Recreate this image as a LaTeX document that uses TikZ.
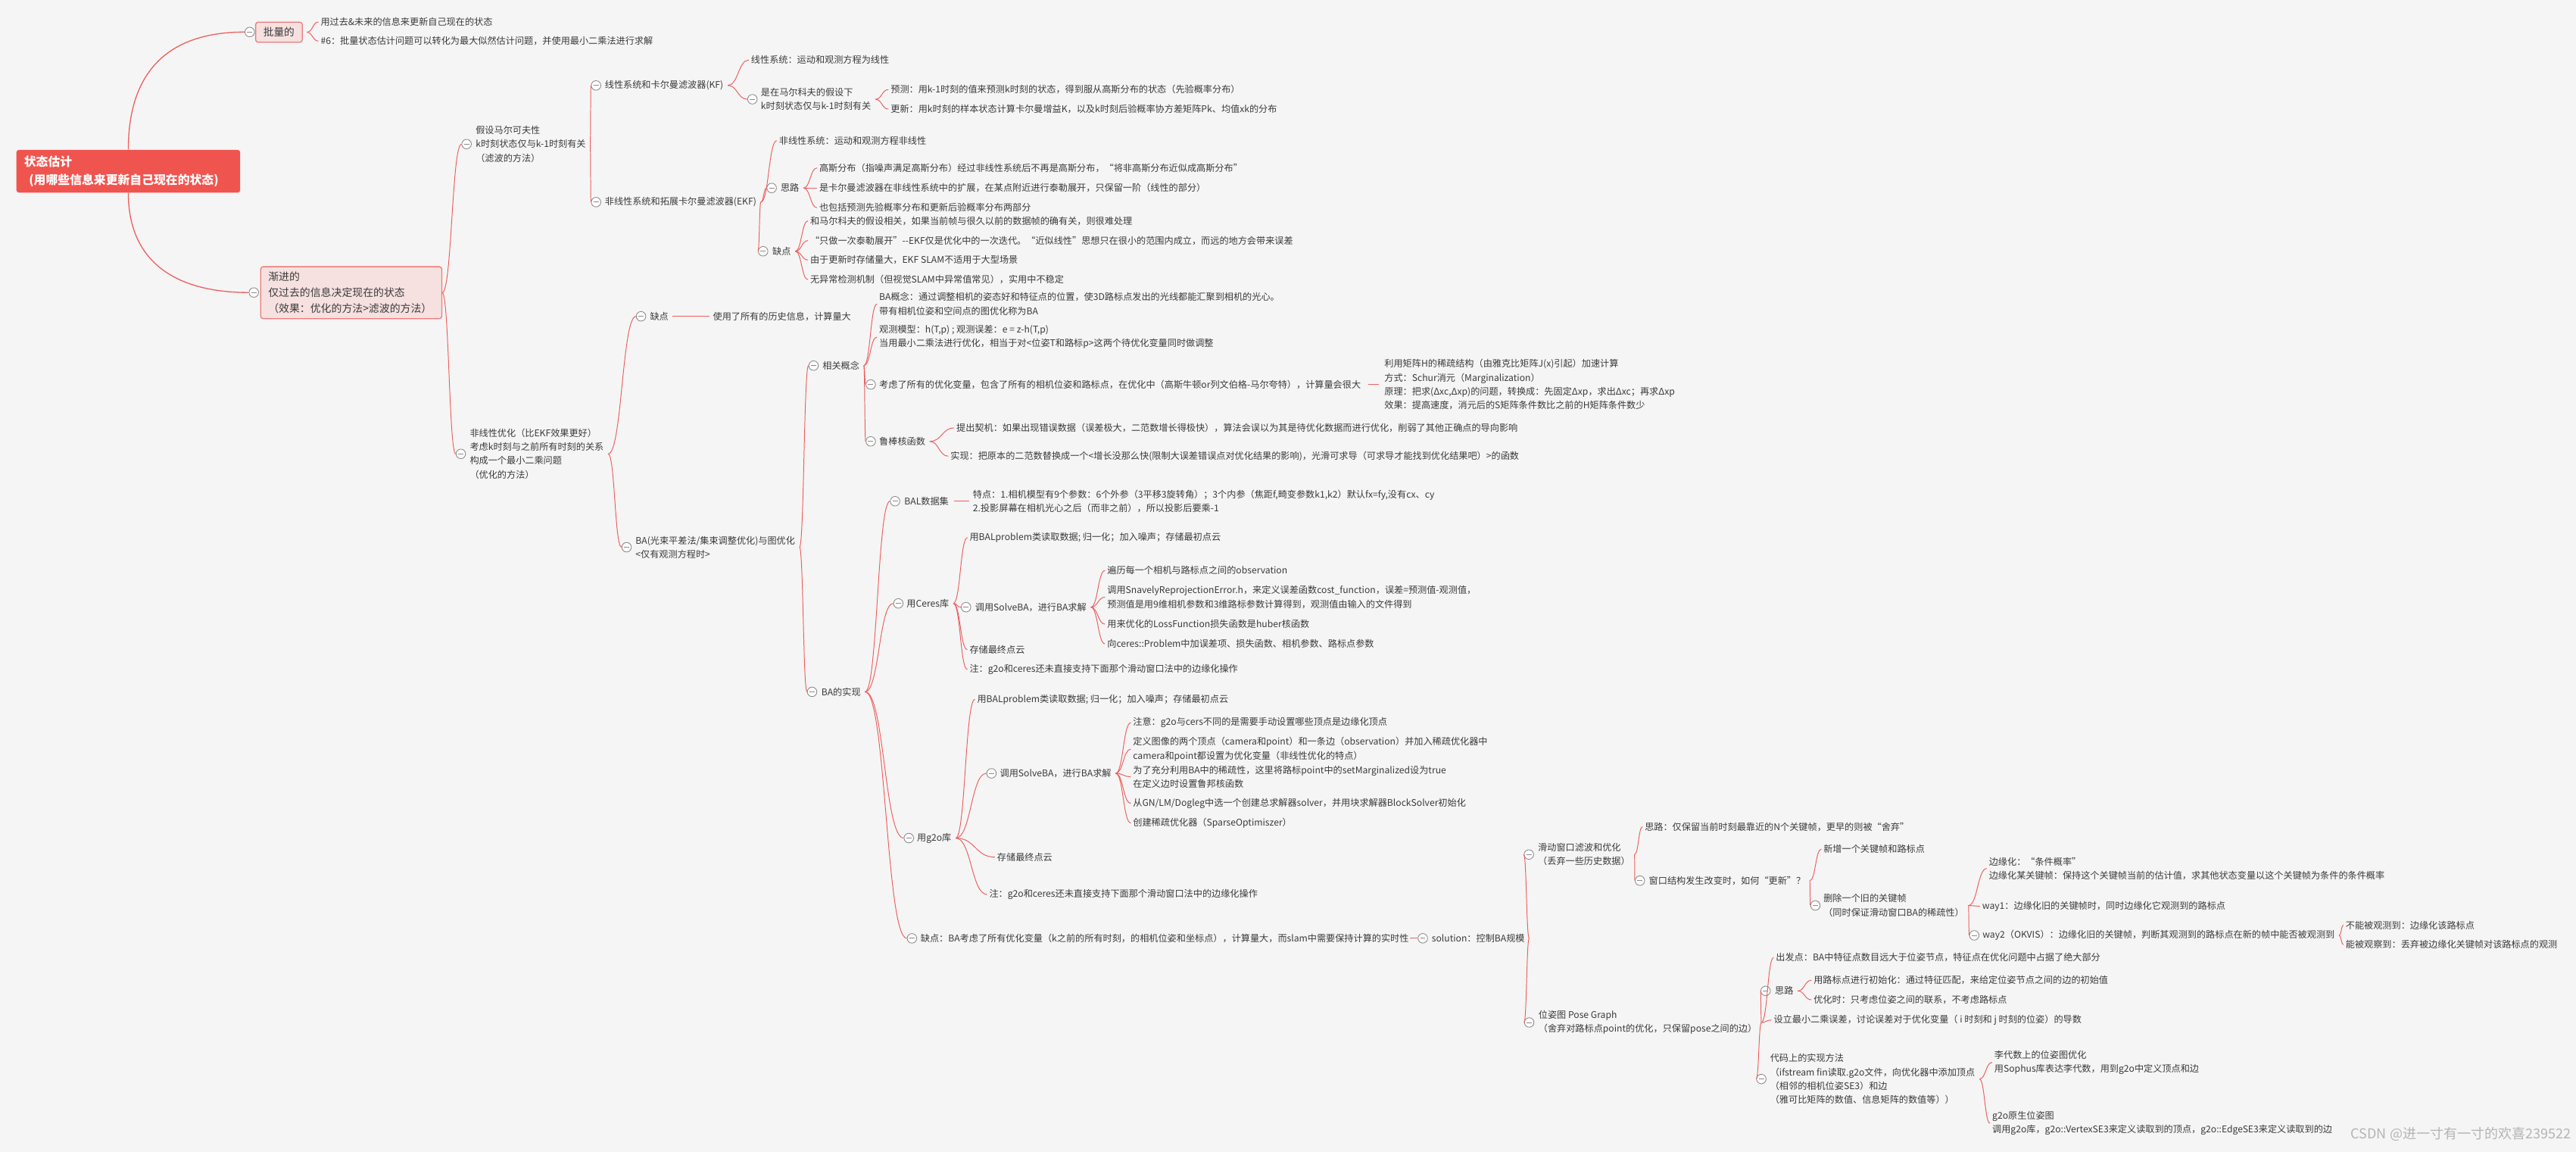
\documentclass[tikz,border=0pt]{standalone}
\usepackage{fontspec}
\setmainfont{Noto Sans CJK SC}
\usetikzlibrary{calc}
\definecolor{bgc}{HTML}{F5F5F5}
\definecolor{lk}{HTML}{EE5E5E}
\definecolor{tx}{HTML}{3A3A3A}
\definecolor{rootred}{HTML}{F0544F}
\definecolor{boxfill}{HTML}{F6E0E0}
\definecolor{boxline}{HTML}{EE7B7B}
\definecolor{knob}{HTML}{8A8A8A}
\definecolor{wm}{HTML}{B4B4B4}
\tikzset{
 t/.style={anchor=west, inner sep=0pt, text=tx, font=\fontsize{5.6}{8.4}\selectfont, align=left},
 knobc/.style={circle, draw=knob, fill=white, line width=0.4pt, minimum size=5.8pt, inner sep=0pt,
   path picture={\draw[knob, line width=0.4pt] ([xshift=1.3pt]path picture bounding box.west) -- ([xshift=-1.3pt]path picture bounding box.east);}},
 link/.style={draw=lk, line width=0.45pt},
 rootbox/.style={anchor=north west, fill=rootred, rounded corners=1.5pt, text=white,
   font=\fontsize{7.3}{11}\selectfont\bfseries, align=left, text width=126.8pt, inner xsep=4.7pt, inner ysep=0pt, minimum height=26pt},
 pbox/.style={draw=boxline, fill=boxfill, rounded corners=1.5pt, line width=0.6pt, text=tx, inner sep=0pt},
}
\newcommand\mmcn[2]{\draw[link] let \p1=(#1),\p2=(#2) in (\p1) .. controls +({0.5*(\x2-\x1)},0pt) and +({-0.5*(\x2-\x1)},0pt) .. (\p2);}
\newcommand\mmkn[5]{\node[knobc] (#1c) at (#2,#4) {}; \node[t] (#1) at (#3,#4) {#5};}
\newcommand\mmtn[4]{\node[t] (#1) at (#2,#3) {#4};}
\newcommand\mmbr[2]{\mmcn{[xshift=2.5pt]#1.east}{[xshift=-1.2pt]#2.west}}
\newcommand\mmbrc[2]{\mmcn{[xshift=2.5pt]#1.east}{#2c.west}}
\begin{document}
\begin{tikzpicture}[x=1pt,y=-1pt]
\fill[bgc] (0,0) rectangle (1568,701);
\useasboundingbox (0,0) rectangle (1568,701);

% ---------- root and first level
\node[rootbox] (root) at (9.8,91) {状态估计\\\hspace*{3pt}(用哪些信息来更新自己现在的状态)};
\node[knobc] (plc) at (152,19.5) {};
\node[pbox, minimum width=28.4pt, minimum height=12.2pt, font=\fontsize{6.3}{7.5}\selectfont] (pl) at (169.8,19.6) {批量的};
\node[knobc] (jjc) at (154.5,178) {};
\node[pbox, anchor=north west, text width=101pt, inner xsep=4.6pt, minimum height=31.6pt, align=left, font=\fontsize{6.4}{9.5}\selectfont] (jj) at (158.4,162) {渐进的\\仅过去的信息决定现在的状态\\（效果：优化的方法>滤波的方法）};
\draw[link, line width=0.6pt] (root.north) .. controls +(0,-46.5) and +(-47.5,0) .. (plc.west);
\draw[link, line width=0.6pt] (root.south) .. controls +(0,40) and +(-47,0) .. (jjc.west);

\mmtn{pla}{195}{13.4}{用过去\&未来的信息来更新自己现在的状态}
\mmtn{plb}{195}{25}{\#6：批量状态估计问题可以转化为最大似然估计问题，并使用最小二乘法进行求解}
\mmbr{pl}{pla} \mmbr{pl}{plb}

% ---------- second level
\mmkn{mk}{284}{289.4}{87.7}{假设马尔可夫性\\k时刻状态仅与k-1时刻有关\\（滤波的方法）}
\mmkn{nl}{280.5}{285.8}{276.2}{非线性优化（比EKF效果更好）\\考虑k时刻与之前所有时刻的关系\\构成一个最小二乘问题\\（优化的方法）}
\mmcn{jj.east}{mkc.west}
\mmcn{jj.east}{nlc.west}

% ---------- KF / EKF
\mmkn{kf}{362.8}{368}{52}{线性系统和卡尔曼滤波器(KF)}
\mmkn{ekf}{362.8}{368}{123}{非线性系统和拓展卡尔曼滤波器(EKF)}
\mmbrc{mk}{kf} \mmbrc{mk}{ekf}

\mmtn{kfa}{457}{36.5}{线性系统：运动和观测方程为线性}
\mmkn{kfb}{458}{463}{60.4}{是在马尔科夫的假设下\\k时刻状态仅与k-1时刻有关}
\mmbr{kf}{kfa} \mmbrc{kf}{kfb}
\mmtn{kfba}{542}{54.5}{预测：用k-1时刻的值来预测k时刻的状态，得到服从高斯分布的状态（先验概率分布）}
\mmtn{kfbb}{542}{66.4}{更新：用k时刻的样本状态计算卡尔曼增益K，以及k时刻后验概率协方差矩阵Pk、均值xk的分布}
\mmbr{kfb}{kfba} \mmbr{kfb}{kfbb}

\mmtn{ekfa}{474}{85.6}{非线性系统：运动和观测方程非线性}
\mmkn{ekfb}{469.7}{475}{114.4}{思路}
\mmkn{ekfc}{464.5}{470}{152.9}{缺点}
\mmbr{ekf}{ekfa} \mmbrc{ekf}{ekfb} \mmbrc{ekf}{ekfc}
\mmtn{eba}{498.5}{102.2}{高斯分布（指噪声满足高斯分布）经过非线性系统后不再是高斯分布，“将非高斯分布近似成高斯分布”}
\mmtn{ebb}{498.5}{114.4}{是卡尔曼滤波器在非线性系统中的扩展，在某点附近进行泰勒展开，只保留一阶（线性的部分）}
\mmtn{ebc}{498.5}{126.4}{也包括预测先验概率分布和更新后验概率分布两部分}
\mmbr{ekfb}{eba} \mmbr{ekfb}{ebb} \mmbr{ekfb}{ebc}
\mmtn{eca}{493}{134.4}{和马尔科夫的假设相关，如果当前帧与很久以前的数据帧的确有关，则很难处理}
\mmtn{ecb}{493}{146.4}{“只做一次泰勒展开”-{}-EKF仅是优化中的一次迭代。“近似线性”思想只在很小的范围内成立，而远的地方会带来误差}
\mmtn{ecc}{493}{158.2}{由于更新时存储量大，EKF SLAM不适用于大型场景}
\mmtn{ecd}{493}{170.2}{无异常检测机制（但视觉SLAM中异常值常见），实用中不稳定}
\mmbr{ekfc}{eca} \mmbr{ekfc}{ecb} \mmbr{ekfc}{ecc} \mmbr{ekfc}{ecd}

% ---------- nonlinear optimisation
\mmkn{qd}{390.2}{395.5}{192.5}{缺点}
\node[t] (qda) at ($(qd.east)+(26.7,0)$) {使用了所有的历史信息，计算量大};
\draw[link] ([xshift=2pt]qd.east) -- ([xshift=-2pt]qda.west);
\mmkn{ba}{381.4}{386.7}{333}{BA(光束平差法/集束调整优化)与图优化\\<仅有观测方程时>}
\mmbrc{nl}{qd} \mmbrc{nl}{ba}

\mmkn{xg}{495.2}{500.5}{222.5}{相关概念}
\mmkn{bs}{494.3}{499.8}{421}{BA的实现}
\mmbrc{ba}{xg} \mmbrc{ba}{bs}

\mmtn{xga}{535}{185}{BA概念：通过调整相机的姿态好和特征点的位置，使3D路标点发出的光线都能汇聚到相机的光心。\\带有相机位姿和空间点的图优化称为BA}
\mmtn{xgb}{535}{205.1}{观测模型：h(T,p) ; 观测误差：e = z-h(T,p)\\当用最小二乘法进行优化，相当于对<位姿T和路标p>这两个待优化变量同时做调整}
\mmkn{xgc}{530}{535}{234}{考虑了所有的优化变量，包含了所有的相机位姿和路标点，在优化中（高斯牛顿or列文伯格-马尔夸特），计算量会很大}
\mmkn{xgd}{530}{535}{268.6}{鲁棒核函数}
\mmbr{xg}{xga} \mmbr{xg}{xgb} \mmbrc{xg}{xgc} \mmbrc{xg}{xgd}
\node[t] (xgca) at ($(xgc.east)+(14,0)$) {利用矩阵H的稀疏结构（由雅克比矩阵J(x)引起）加速计算\\方式：Schur消元（Marginalization）\\原理：把求(Δxc,Δxp)的问题，转换成：先固定Δxp，求出Δxc；再求Δxp\\效果：提高速度，消元后的S矩阵条件数比之前的H矩阵条件数少};
\draw[link] ([xshift=4.5pt]xgc.east) -- ([xshift=-3pt]xgca.west);
\mmtn{xgda}{582}{260.4}{提出契机：如果出现错误数据（误差极大，二范数增长得极快），算法会误以为其是待优化数据而进行优化，削弱了其他正确点的导向影响}
\mmtn{xgdb}{578.4}{277.6}{实现：把原本的二范数替换成一个<增长没那么快(限制大误差错误点对优化结果的影响)，光滑可求导（可求导才能找到优化结果吧）>的函数}
\mmbr{xgd}{xgda} \mmbr{xgd}{xgdb}

% ---------- BA implementation
\mmkn{bal}{544.8}{550.3}{305}{BAL数据集}
\node[t] (bala) at ($(bal.east)+(14.4,0)$) {特点：1.相机模型有9个参数：6个外参（3平移3旋转角）；3个内参（焦距f,畸变参数k1,k2）默认fx=fy,没有cx、cy\\2.投影屏幕在相机光心之后（而非之前），所以投影后要乘-1};
\draw[link] ([xshift=3pt]bal.east) -- ([xshift=-2pt]bala.west);
\mmkn{ce}{546.8}{551.7}{367.2}{用Ceres库}
\mmkn{go}{553.2}{558}{510}{用g2o库}
\mmkn{qdb}{555.1}{560.2}{571}{缺点：BA考虑了所有优化变量（k之前的所有时刻，的相机位姿和坐标点），计算量大，而slam中需要保持计算的实时性}
\mmbrc{bs}{bal} \mmbrc{bs}{ce} \mmbrc{bs}{go} \mmbrc{bs}{qdb}

\mmtn{cea}{590}{327.2}{用BALproblem类读取数据; 归一化；加入噪声；存储最初点云}
\mmkn{ceb}{588}{593.4}{369.5}{调用SolveBA，进行BA求解}
\mmtn{cec}{590}{395.3}{存储最终点云}
\mmtn{ced}{590}{407.4}{注：g2o和ceres还未直接支持下面那个滑动窗口法中的边缘化操作}
\mmbr{ce}{cea} \mmbrc{ce}{ceb} \mmbr{ce}{cec} \mmbr{ce}{ced}
\mmtn{ceba}{673.8}{347.2}{遍历每一个相机与路标点之间的observation}
\mmtn{cebb}{673.8}{363.4}{调用SnavelyReprojectionError.h，来定义误差函数cost\_function，误差=预测值-观测值，\\预测值是用9维相机参数和3维路标参数计算得到，观测值由输入的文件得到}
\mmtn{cebc}{673.8}{379.8}{用来优化的LossFunction损失函数是huber核函数}
\mmtn{cebd}{673.8}{391.8}{向ceres::Problem中加误差项、损失函数、相机参数、路标点参数}
\mmbr{ceb}{ceba} \mmbr{ceb}{cebb} \mmbr{ceb}{cebc} \mmbr{ceb}{cebd}

\mmtn{goa}{594.6}{425.6}{用BALproblem类读取数据; 归一化；加入噪声；存储最初点云}
\mmkn{gob}{603.5}{608.5}{470.6}{调用SolveBA，进行BA求解}
\mmtn{goc}{606.8}{521.6}{存储最终点云}
\mmtn{god}{602}{544.3}{注：g2o和ceres还未直接支持下面那个滑动窗口法中的边缘化操作}
\mmbr{go}{goa} \mmbrc{go}{gob} \mmbr{go}{goc} \mmbr{go}{god}
\mmtn{goba}{689.5}{439.8}{注意：g2o与cers不同的是需要手动设置哪些顶点是边缘化顶点}
\mmtn{gobb}{689.5}{455.9}{定义图像的两个顶点（camera和point）和一条边（observation）并加入稀疏优化器中\\camera和point都设置为优化变量（非线性优化的特点）}
\mmtn{gobc}{689.5}{472.7}{为了充分利用BA中的稀疏性，这里将路标point中的setMarginalized设为true\\在定义边时设置鲁邦核函数}
\mmtn{gobd}{689.5}{488.9}{从GN/LM/Dogleg中选一个创建总求解器solver，并用块求解器BlockSolver初始化}
\mmtn{gobe}{689.5}{500.8}{创建稀疏优化器（SparseOptimiszer）}
\mmbr{gob}{goba} \mmbr{gob}{gobb} \mmbr{gob}{gobc} \mmbr{gob}{gobd} \mmbr{gob}{gobe}

% ---------- solution
\node[knobc] (solc) at ($(qdb.east)+(8.3,0)$) {};
\node[t] (sol) at ($(solc.center)+(5.3,0)$) {solution：控制BA规模};
\draw[link] ([xshift=0.5pt]qdb.east) -- (solc.west);

\mmkn{sw}{930.6}{936}{520}{滑动窗口滤波和优化\\（丢弃一些历史数据）}
\mmkn{pg}{930.8}{936.3}{622.2}{位姿图 Pose Graph\\（舍弃对路标点point的优化，只保留pose之间的边）}
\mmbrc{sol}{sw} \mmbrc{sol}{pg}

\mmtn{swa}{1001}{503.1}{思路：仅保留当前时刻最靠近的N个关键帧，更早的则被“舍弃”}
\mmkn{swb}{998.2}{1003.5}{535.9}{窗口结构发生改变时，如何“更新”？}
\mmbr{sw}{swa} \mmbrc{sw}{swb}
\mmtn{swba}{1109.8}{516.7}{新增一个关键帧和路标点}
\mmkn{swbb}{1105}{1109.8}{551}{删除一个旧的关键帧\\（同时保证滑动窗口BA的稀疏性）}
\mmbr{swb}{swba} \mmbrc{swb}{swbb}
\mmtn{mga}{1210.5}{528.5}{边缘化：“条件概率”\\边缘化某关键帧：保持这个关键帧当前的估计值，求其他状态变量以这个关键帧为条件的条件概率}
\mmtn{mgb}{1206.4}{551.5}{way1：边缘化旧的关键帧时，同时边缘化它观测到的路标点}
\mmkn{mgc}{1201.7}{1206.6}{569.2}{way2（OKVIS）：边缘化旧的关键帧，判断其观测到的路标点在新的帧中能否被观测到}
\mmbr{swbb}{mga} \mmbr{swbb}{mgb} \mmbrc{swbb}{mgc}
\mmtn{mgca}{1427.6}{563}{不能被观测到：边缘化该路标点}
\mmtn{mgcb}{1427.6}{574.9}{能被观察到：丢弃被边缘化关键帧对该路标点的观测}
\mmbr{mgc}{mgca} \mmbr{mgc}{mgcb}

\mmtn{pga}{1080.8}{582.7}{出发点：BA中特征点数目远大于位姿节点，特征点在优化问题中占据了绝大部分}
\mmkn{pgb}{1074.7}{1080.2}{603}{思路}
\mmtn{pgc}{1079.5}{620.7}{设立最小二乘误差，讨论误差对于优化变量（ i 时刻和 j 时刻的位姿）的导数}
\mmkn{pgd}{1072.1}{1077.3}{656.6}{代码上的实现方法\\（ifstream fin读取.g2o文件，向优化器中添加顶点\\（相邻的相机位姿SE3）和边\\（雅可比矩阵的数值、信息矩阵的数值等））}
\mmbr{pg}{pga} \mmbrc{pg}{pgb} \mmbr{pg}{pgc} \mmbrc{pg}{pgd}
\mmtn{pgba}{1103.8}{596.5}{用路标点进行初始化：通过特征匹配，来给定位姿节点之间的边的初始值}
\mmtn{pgbb}{1103.8}{608.4}{优化时：只考虑位姿之间的联系，不考虑路标点}
\mmbr{pgb}{pgba} \mmbr{pgb}{pgbb}
\mmtn{pgda}{1213.8}{646.5}{李代数上的位姿图优化\\用Sophus库表达李代数，用到g2o中定义顶点和边}
\mmtn{pgdb}{1212.5}{683.5}{g2o原生位姿图\\调用g2o库，g2o::VertexSE3来定义读取到的顶点，g2o::EdgeSE3来定义读取到的边}
\mmbr{pgd}{pgda} \mmbr{pgd}{pgdb}

% ---------- watermark
\node[anchor=east, inner sep=0pt, text=wm, font=\fontsize{8.3}{9}\selectfont] (wmk) at (1565,690) {CSDN @进一寸有一寸的欢喜239522};
\end{tikzpicture}
\end{document}
